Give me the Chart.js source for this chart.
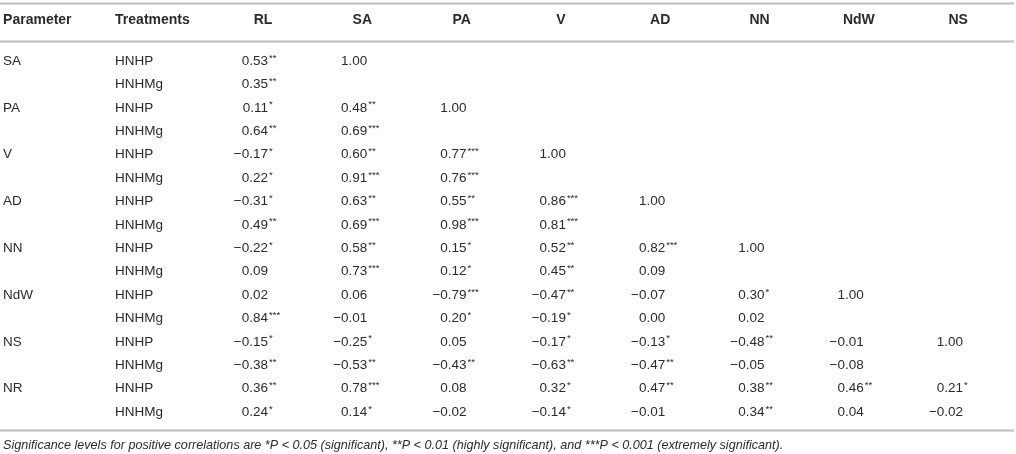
<!DOCTYPE html>
<html>
<head>
<meta charset="utf-8">
<script src="https://cdn.jsdelivr.net/npm/chart.js@4"></script>
<style>
  body { margin: 0; background: #fff; }
  #wrap { width: 1016px; height: 454px; }
</style>
</head>
<body>
<div id="wrap"><canvas id="corrTable"></canvas></div>
<script>
var parameters = ['SA', 'PA', 'V', 'AD', 'NN', 'NdW', 'NS', 'NR'];
var treatments = ['HNHP', 'HNHMg'];
var columns = ['RL', 'SA', 'PA', 'V', 'AD', 'NN', 'NdW', 'NS'];
var footnote = 'Significance levels for positive correlations are *P < 0.05 (significant), **P < 0.01 (highly significant), and ***P < 0.001 (extremely significant).';

// one value per row: SA-HNHP, SA-HNHMg, PA-HNHP, PA-HNHMg ... NR-HNHMg
var rl   = [0.53, 0.35, 0.11, 0.64, -0.17, 0.22, -0.31, 0.49, -0.22, 0.09, 0.02, 0.84, -0.15, -0.38, 0.36, 0.24];
var sa   = [1.00, null, 0.48, 0.69, 0.60, 0.91, 0.63, 0.69, 0.58, 0.73, 0.06, -0.01, -0.25, -0.53, 0.78, 0.14];
var pa   = [null, null, 1.00, null, 0.77, 0.76, 0.55, 0.98, 0.15, 0.12, -0.79, 0.20, 0.05, -0.43, 0.08, -0.02];
var v    = [null, null, null, null, 1.00, null, 0.86, 0.81, 0.52, 0.45, -0.47, -0.19, -0.17, -0.63, 0.32, -0.14];
var ad   = [null, null, null, null, null, null, 1.00, null, 0.82, 0.09, -0.07, 0.00, -0.13, -0.47, 0.47, -0.01];
var nn   = [null, null, null, null, null, null, null, null, 1.00, null, 0.30, 0.02, -0.48, -0.05, 0.38, 0.34];
var ndw  = [null, null, null, null, null, null, null, null, null, null, 1.00, null, -0.01, -0.08, 0.46, 0.04];
var ns   = [null, null, null, null, null, null, null, null, null, null, null, null, 1.00, null, 0.21, -0.02];

// number of significance stars for each cell
var rlSig  = [2, 2, 1, 2, 1, 1, 1, 2, 1, 0, 0, 3, 1, 2, 2, 1];
var saSig  = [0, 0, 2, 3, 2, 3, 2, 3, 2, 3, 0, 0, 1, 2, 3, 1];
var paSig  = [0, 0, 0, 0, 3, 3, 2, 3, 1, 1, 3, 1, 0, 2, 0, 0];
var vSig   = [0, 0, 0, 0, 0, 0, 3, 3, 2, 2, 2, 1, 1, 2, 1, 1];
var adSig  = [0, 0, 0, 0, 0, 0, 0, 0, 3, 0, 0, 0, 1, 2, 2, 0];
var nnSig  = [0, 0, 0, 0, 0, 0, 0, 0, 0, 0, 1, 0, 2, 0, 2, 2];
var ndwSig = [0, 0, 0, 0, 0, 0, 0, 0, 0, 0, 0, 0, 0, 0, 2, 0];
var nsSig  = [0, 0, 0, 0, 0, 0, 0, 0, 0, 0, 0, 0, 0, 0, 1, 0];

var values = [rl, sa, pa, v, ad, nn, ndw, ns];
var stars = [rlSig, saSig, paSig, vSig, adSig, nnSig, ndwSig, nsSig];

// layout in scale units (x: column index, y: row index)
var paramX = -2.618;
var treatX = -1.49;
var headerY = -1.752;
var rules = [-2.479, -0.86, 15.77];
var footY = 16.41;
var numShift = 0.05; // numbers end a little right of the column centre

var textColor = '#2b2b2b';
var ruleColor = '#bdbdbd';
var bodyFont = '13.5px "Liberation Sans", Arial, sans-serif';
var headFont = 'bold 14px "Liberation Sans", Arial, sans-serif';
var starFont = '9.5px "Liberation Sans", Arial, sans-serif';
var footFont = 'italic 12.6px "Liberation Sans", Arial, sans-serif';

function fmt(n) {
    return n.toFixed(2).replace('-', '\u2212');
}

var datasets = columns.map(function(col, c) {
    var pts = [];
    values[c].forEach(function(val, r) {
        if (val !== null) pts.push({x: c + numShift, y: r, v: val, s: stars[c][r]});
    });
    return {label: col, data: pts, pointRadius: 0, showLine: false};
});

var tablePlugin = {
    id: 'tablePlugin',
    afterDatasetsDraw: function(chart) {
        var ctx = chart.ctx;
        var xs = chart.scales.x;
        var ys = chart.scales.y;
        ctx.save();

        // rules
        ctx.strokeStyle = ruleColor;
        ctx.lineWidth = 2;
        rules.forEach(function(r) {
            var py = Math.round(ys.getPixelForValue(r)) + 0.5;
            ctx.beginPath();
            ctx.moveTo(chart.chartArea.left, py);
            ctx.lineTo(chart.chartArea.right - 2, py);
            ctx.stroke();
        });

        ctx.fillStyle = textColor;
        ctx.textBaseline = 'middle';

        // header
        var hy = ys.getPixelForValue(headerY);
        ctx.font = headFont;
        ctx.textAlign = 'left';
        ctx.fillText('Parameter', xs.getPixelForValue(paramX), hy);
        ctx.fillText('Treatments', xs.getPixelForValue(treatX), hy);
        ctx.textAlign = 'center';
        columns.forEach(function(col, c) {
            ctx.fillText(col, xs.getPixelForValue(c), hy);
        });

        // row labels
        ctx.font = bodyFont;
        ctx.textAlign = 'left';
        parameters.forEach(function(p, i) {
            ctx.fillText(p, xs.getPixelForValue(paramX), ys.getPixelForValue(i * 2));
            treatments.forEach(function(t, j) {
                ctx.fillText(t, xs.getPixelForValue(treatX), ys.getPixelForValue(i * 2 + j));
            });
        });

        // cells, placed from the dataset points: number right-aligned, stars hang after it
        chart.data.datasets.forEach(function(ds, d) {
            var meta = chart.getDatasetMeta(d);
            meta.data.forEach(function(pt, k) {
                var raw = ds.data[k];
                ctx.font = bodyFont;
                ctx.textAlign = 'right';
                ctx.fillText(fmt(raw.v), pt.x, pt.y);
                if (raw.s) {
                    ctx.font = starFont;
                    ctx.textAlign = 'left';
                    ctx.fillText('*'.repeat(raw.s), pt.x + 1, pt.y - 3);
                }
            });
        });

        // footnote
        ctx.font = footFont;
        ctx.textAlign = 'left';
        ctx.fillText(footnote, xs.getPixelForValue(paramX), ys.getPixelForValue(footY));
        ctx.restore();
    }
};

var chart = new Chart(document.getElementById('corrTable'), {
    type: 'scatter',
    data: {datasets: datasets},
    options: {
        responsive: true,
        maintainAspectRatio: false,
        animation: false,
        layout: {padding: 0},
        plugins: {legend: {display: false}, tooltip: {enabled: false}},
        scales: {
            x: {type: 'linear', display: false, min: -2.649, max: 7.583},
            y: {type: 'linear', display: false, reverse: true, min: -2.607, max: 16.795}
        }
    },
    plugins: [tablePlugin]
});
</script>
</body>
</html>
